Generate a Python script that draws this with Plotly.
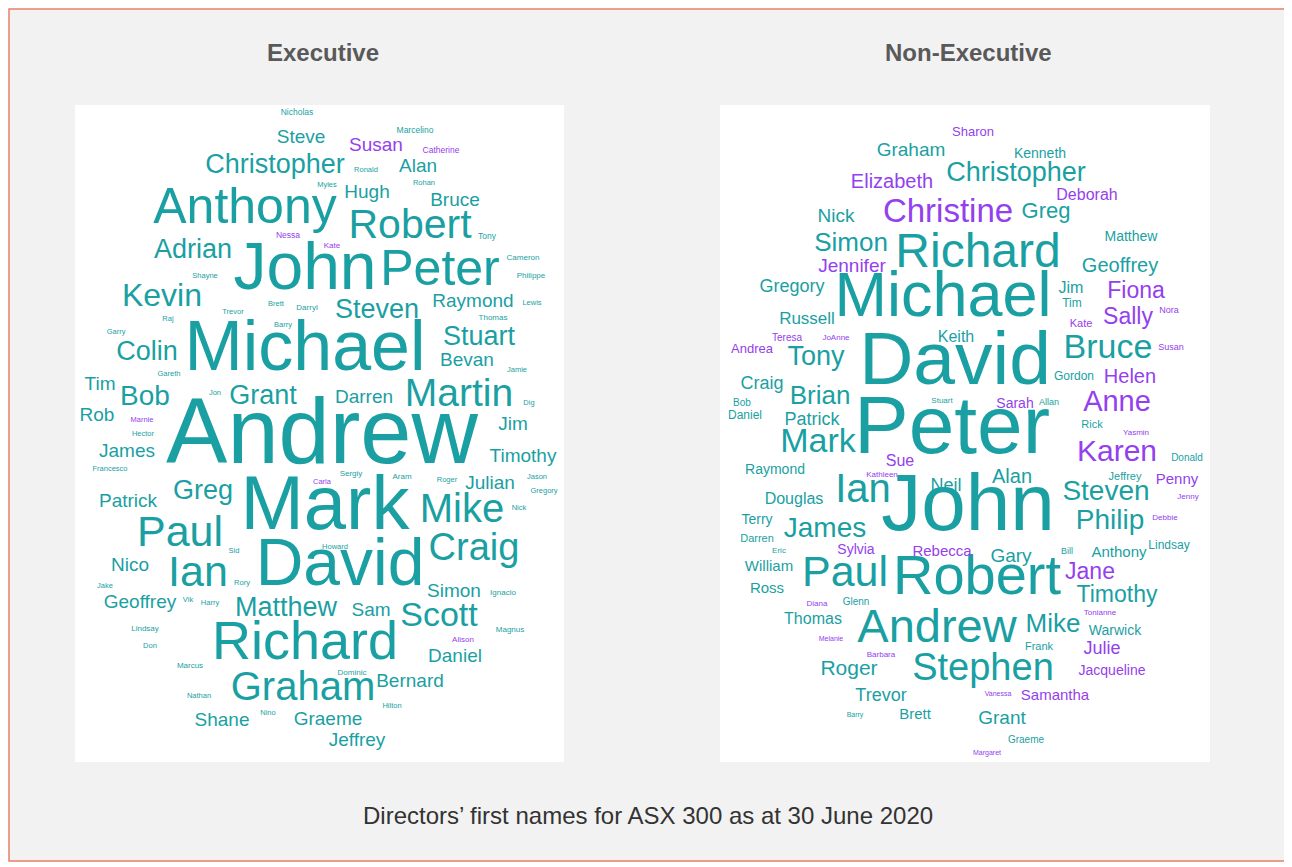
import plotly.graph_objects as go

TEAL = '#1a9fa3'
PURPLE = '#9440ee'
FONT = 'Liberation Sans, Arial, sans-serif'

# ---- Executive word cloud ----
exec_names = [
    'Andrew', 'Michael', 'John', 'Peter', 'Mark', 'David', 'Richard', 'Anthony', 'Robert', 'Christopher',
    'Graham', 'Paul', 'Ian', 'Mike', 'Craig', 'Martin', 'Scott', 'Kevin', 'Matthew', 'Grant',
    'Greg', 'Adrian', 'Colin', 'Bob', 'Stuart', 'Steven', 'Bevan', 'Raymond', 'Darren', 'Timothy',
    'Julian', 'Jim', 'Tim', 'Rob', 'James', 'Patrick', 'Nico', 'Geoffrey', 'Sam', 'Simon',
    'Daniel', 'Bernard', 'Shane', 'Graeme', 'Jeffrey', 'Steve', 'Susan', 'Alan', 'Hugh', 'Bruce',
    'Nicholas', 'Marcelino', 'Catherine', 'Ronald', 'Myles', 'Rohan', 'Tony', 'Nessa', 'Kate', 'Cameron',
    'Philippe', 'Lewis', 'Thomas', 'Jamie', 'Dig', 'Shayne', 'Trevor', 'Brett', 'Darryl', 'Raj',
    'Barry', 'Garry', 'Gareth', 'Jon', 'Marnie', 'Hector', 'Francesco', 'Sergiy', 'Aram', 'Roger',
    'Jason', 'Gregory', 'Carla', 'Nick', 'Howard', 'Sid', 'Rory', 'Jake', 'Ignacio', 'Vik',
    'Harry', 'Lindsay', 'Don', 'Magnus', 'Alison', 'Marcus', 'Dominic', 'Nathan', 'Nino', 'Hilton',
]
exec_x = [
    322, 305, 305, 440, 325, 340, 305, 245, 410, 275,
    303, 180, 198, 462, 474, 459, 439, 162, 286, 263,
    203, 193, 147, 145, 479, 377, 467, 473, 364, 523,
    490, 513, 100, 97, 127, 128, 130, 140, 371, 454,
    455, 410, 222, 328, 357, 301, 376, 418, 367, 455,
    297, 415, 441, 366, 327, 424, 487, 288, 332, 523,
    531, 532, 493, 517, 529, 205, 233, 276, 307, 168,
    283, 116, 169, 215, 142, 143, 110, 351, 402, 447,
    537, 544, 322, 519, 335, 234, 242, 105, 503, 188,
    210, 145, 150, 510, 463, 190, 352, 199, 268, 392,
]
exec_y = [
    440, 352, 272, 272, 510, 568, 645, 210, 228, 166,
    690, 535, 575, 512, 550, 396, 617, 298, 609, 397,
    492, 251, 353, 398, 338, 311, 361, 302, 398, 457,
    484, 425, 385, 416, 452, 502, 566, 603, 611, 592,
    657, 682, 721, 720, 741, 138, 146, 167, 193, 201,
    113, 131, 151, 170, 185, 183, 237, 236, 246, 258,
    276, 303, 318, 370, 403, 276, 312, 304, 308, 319,
    325, 332, 374, 393, 420, 434, 469, 474, 477, 480,
    477, 491, 482, 508, 547, 551, 583, 586, 593, 600,
    603, 629, 646, 630, 640, 666, 673, 696, 713, 706,
]
exec_size = [
    92, 70, 66, 50, 76, 66, 54, 50, 41, 27,
    40, 43, 43, 40, 38, 39, 34, 32, 27, 27,
    27, 27, 27, 28, 27, 27, 19, 19, 19, 19,
    19, 19, 19, 19, 19, 19, 19, 19, 19, 19,
    19, 19, 19, 19, 19, 19, 19, 19, 19, 19,
    8.5, 8.5, 8.5, 7.5, 7.5, 7.5, 8.5, 8.5, 8, 8,
    8, 7.5, 8, 7.5, 7.5, 7.5, 7.5, 7.5, 8, 7.5,
    7.5, 7.5, 7.5, 7.5, 7.5, 7.5, 7.5, 8, 8, 7.5,
    7.5, 7.5, 7.5, 7.5, 7.5, 7.5, 7.5, 7.5, 8, 7.5,
    7.5, 8, 7.5, 8, 8, 8, 8, 7.5, 7.5, 7.5,
]
exec_female = ['Susan', 'Catherine', 'Nessa', 'Kate', 'Marnie', 'Carla', 'Alison']

# ---- Non-Executive word cloud ----
nonexec_names = [
    'Peter', 'David', 'John', 'Michael', 'Richard', 'Robert', 'Andrew', 'Paul', 'Stephen', 'Ian',
    'Mark', 'James', 'Christine', 'Christopher', 'Bruce', 'Karen', 'Anne', 'Steven', 'Philip', 'Tony',
    'Brian', 'Simon', 'Mike', 'Timothy', 'Jane', 'Fiona', 'Sally', 'Greg', 'Elizabeth', 'Jennifer',
    'Graham', 'Gregory', 'Russell', 'Geoffrey', 'Helen', 'Nick', 'Deborah', 'Kenneth', 'Sharon', 'Matthew',
    'Jim', 'Tim', 'Kate', 'Nora', 'Susan', 'Keith', 'Gordon', 'Sarah', 'Allan', 'Rick',
    'Yasmin', 'Donald', 'Sue', 'Kathleen', 'Neil', 'Alan', 'Jeffrey', 'Penny', 'Jenny', 'Debbie',
    'Raymond', 'Douglas', 'Terry', 'Darren', 'Eric', 'Sylvia', 'Rebecca', 'Gary', 'Bill', 'Anthony',
    'Lindsay', 'William', 'Ross', 'Diana', 'Glenn', 'Tonianne', 'Thomas', 'Warwick', 'Melanie', 'Frank',
    'Julie', 'Barbara', 'Roger', 'Jacqueline', 'Trevor', 'Vanessa', 'Samantha', 'Barry', 'Brett', 'Grant',
    'Graeme', 'Margaret', 'Patrick', 'Craig', 'Bob', 'Daniel', 'Stuart', 'Teresa', 'JoAnne', 'Andrea',
]
nonexec_x = [
    952, 955, 968, 943, 978, 977, 937, 845, 983, 863,
    818, 825, 948, 1016, 1108, 1117, 1117, 1106, 1110, 816,
    820, 851, 1053, 1117, 1090, 1136, 1128, 1046, 892, 852,
    911, 792, 807, 1120, 1130, 836, 1087, 1040, 973, 1131,
    1071, 1072, 1081, 1169, 1171, 956, 1074, 1015, 1049, 1092,
    1136, 1187, 900, 882, 946, 1012, 1125, 1177, 1188, 1165,
    775, 794, 757, 757, 779, 856, 942, 1011, 1067, 1119,
    1169, 769, 767, 817, 856, 1100, 813, 1115, 831, 1039,
    1102, 881, 849, 1112, 881, 998, 1055, 855, 915, 1002,
    1026, 987, 812, 762, 742, 745, 942, 787, 836, 752,
]
nonexec_y = [
    432, 365, 510, 300, 255, 580, 630, 575, 670, 492,
    443, 530, 214, 174, 349, 453, 404, 493, 522, 358,
    397, 244, 625, 596, 573, 292, 318, 212, 183, 267,
    151, 287, 320, 267, 378, 217, 196, 154, 133, 237,
    289, 304, 324, 311, 348, 338, 377, 404, 403, 425,
    433, 458, 462, 475, 486, 478, 477, 480, 497, 518,
    470, 500, 520, 539, 551, 550, 552, 557, 552, 553,
    546, 567, 589, 604, 602, 613, 620, 631, 639, 647,
    649, 655, 670, 671, 696, 694, 696, 715, 715, 719,
    740, 753, 420, 384, 403, 416, 401, 338, 338, 350,
]
nonexec_size = [
    82, 75, 80, 63, 48, 56, 47, 43, 38, 40,
    34, 28, 33, 27, 34, 30, 29, 28, 28, 27,
    26, 26, 26, 23, 23, 23, 23, 22, 20, 19,
    19, 18, 17, 20, 20, 19, 16, 14, 13, 14,
    16, 12, 11, 9, 9, 16, 12, 14, 9, 11,
    8, 10, 16, 8, 18, 20, 11, 15, 8, 8,
    14, 16, 14, 11, 8, 14, 15, 19, 9, 15,
    12, 15, 15, 8, 10, 8, 16, 14, 7, 11,
    18, 8, 21, 14, 18, 7, 15, 7, 15, 19,
    10, 7, 18, 18, 10, 12, 8, 10, 8, 13,
]
nonexec_female = [
    'Christine', 'Karen', 'Anne', 'Jane', 'Fiona', 'Sally', 'Elizabeth', 'Jennifer', 'Helen', 'Deborah',
    'Sharon', 'Kate', 'Nora', 'Susan', 'Sarah', 'Yasmin', 'Sue', 'Kathleen', 'Penny', 'Jenny',
    'Debbie', 'Sylvia', 'Rebecca', 'Diana', 'Tonianne', 'Melanie', 'Julie', 'Barbara', 'Jacqueline',
    'Vanessa', 'Samantha', 'Margaret', 'Teresa', 'JoAnne', 'Andrea',
]

panel_titles = ['Executive', 'Non-Executive']
caption = 'Directors\u2019 first names for ASX 300 as at 30 June 2020'

# the page body has an 8px margin, so the plot starts at (8, 8) in the window;
# axis ranges are set so that data coordinates equal window pixels
W, H = 1292, 867
PAD = 8

fig = go.Figure()

for names, xs, ys, sizes, female in [
    (exec_names, exec_x, exec_y, exec_size, exec_female),
    (nonexec_names, nonexec_x, nonexec_y, nonexec_size, nonexec_female),
]:
    colors = [PURPLE if n in female else TEAL for n in names]
    fig.add_trace(go.Scatter(
        x=xs, y=ys, text=names, mode='text',
        textposition='middle center',
        textfont=dict(family=FONT, size=sizes, color=colors),
        hoverinfo='skip', showlegend=False,
    ))

# background frame and the two white panels
fig.add_shape(type='rect', x0=9, y0=9, x1=W - 3, y1=H - 6,
              fillcolor='#f2f2f2', line=dict(color='#e8806a', width=1.5), layer='below')
for x0, x1 in [(75, 564), (720, 1210)]:
    fig.add_shape(type='rect', x0=x0, y0=105, x1=x1, y1=762,
                  fillcolor='white', line_width=0, layer='below')

for title, cx in zip(panel_titles, [323, 968]):
    fig.add_annotation(x=cx, y=52, text='<b>%s</b>' % title, showarrow=False,
                       font=dict(family=FONT, size=24, color='#595959'))

fig.add_annotation(x=648, y=815, text=caption, showarrow=False,
                   font=dict(family=FONT, size=24, color='#333333'))

fig.update_xaxes(range=[PAD, W], visible=False, fixedrange=True)
fig.update_yaxes(range=[H, PAD], visible=False, fixedrange=True)
fig.update_layout(
    width=W - PAD, height=H - PAD,
    margin=dict(l=0, r=0, t=0, b=0),
    paper_bgcolor='white',
    plot_bgcolor='white',
    hovermode=False,
)

fig.write_html('out.html')
